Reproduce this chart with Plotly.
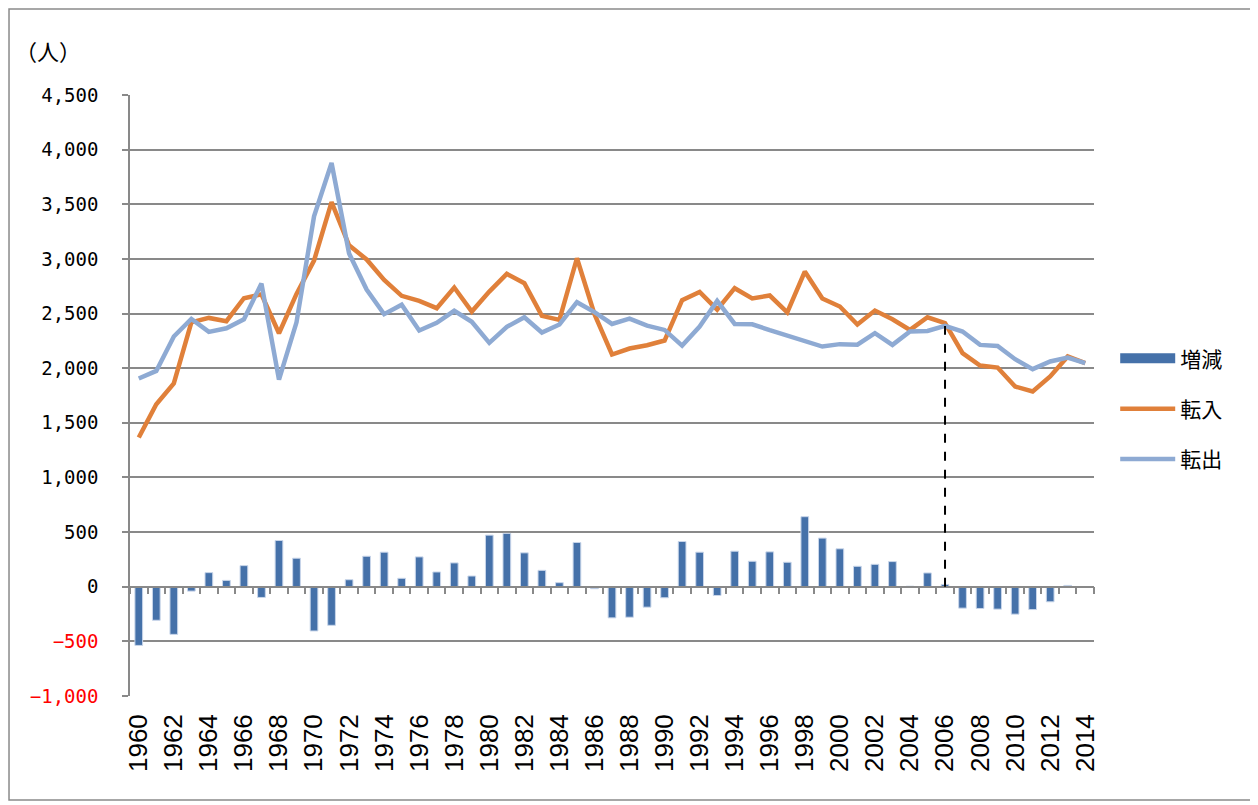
import plotly.graph_objects as go

years = [str(y) for y in range(1960, 2015)]

tennyu = [1365, 1670, 1860, 2420, 2460, 2430, 2640, 2675, 2320, 2680,
          2985, 3520, 3125, 2995, 2808, 2662, 2616, 2549, 2738, 2518,
          2701, 2863, 2777, 2479, 2442, 3006, 2495, 2125, 2180, 2210,
          2253, 2622, 2698, 2536, 2732, 2638, 2665, 2510, 2884, 2638,
          2564, 2400, 2527, 2448, 2350, 2466, 2412, 2137, 2024, 2006,
          1832, 1787, 1924, 2107, 2046]

tenshutsu = [1905, 1975, 2290, 2450, 2332, 2365, 2448, 2774, 1896, 2420,
             3390, 3878, 3050, 2720, 2494, 2580, 2345, 2415, 2525, 2425,
             2232, 2378, 2466, 2326, 2400, 2604, 2513, 2405, 2454, 2390,
             2350, 2207, 2381, 2616, 2405, 2402, 2348, 2295, 2248, 2198,
             2220, 2215, 2320, 2213, 2335, 2341, 2387, 2335, 2213, 2204,
             2082, 1991, 2061, 2097, 2046]

zogen = [-537, -307, -436, -40, 129, 58, 193, -98, 423, 261,
         -405, -353, 64, 279, 316, 77, 273, 135, 218, 98,
         472, 488, 310, 150, 37, 405, -18, -285, -279, -187,
         -101, 414, 316, -80, 325, 233, 319, 224, 641, 445,
         347, 187, 205, 230, 5, 126, 21, -196, -199, -205,
         -251, -209, -138, 12, 0]

series_names = ["増減", "転入", "転出"]
y_ticks = [-1000, -500, 0, 500, 1000, 1500, 2000, 2500, 3000, 3500, 4000, 4500]
x_tick_labels = years[::2]
unit_label = "（人）"
marker_year = "2006"


def fmt(v):
    s = f"{abs(v):,}"
    if v < 0:
        return f"<span style='color:#ff0000'>\u2212{s}</span>"
    return s


GRID = "#898989"
CJK = "Noto Sans CJK JP"
BAR = "#4571a9"

fig = go.Figure()
fig.add_trace(go.Bar(
    x=years, y=zogen, name=series_names[0], legendgroup="a", showlegend=False,
    marker=dict(color=BAR, line=dict(color="#c9d6ea", width=1)),
))
# legend entry for the bars (wide block like the original)
fig.add_trace(go.Scatter(
    x=[None], y=[None], name=series_names[0], legendgroup="a", mode="lines",
    line=dict(color=BAR, width=15), hoverinfo="skip",
))
fig.add_trace(go.Scatter(
    x=years, y=tennyu, name=series_names[1], legendgroup="b", mode="lines",
    line=dict(color="#e0803a", width=4.5),
))
fig.add_trace(go.Scatter(
    x=years, y=tenshutsu, name=series_names[2], legendgroup="c", mode="lines",
    line=dict(color="#8eaad3", width=4.5),
))
# helper trace so the zero-line category axis (with boundary ticks) is drawn
fig.add_trace(go.Scatter(
    x=years, y=zogen, xaxis="x2", mode="none", showlegend=False, hoverinfo="skip",
))

idx = years.index(marker_year)
fig.add_shape(type="line", xref="x", yref="y",
              x0=idx, x1=idx, y0=0,
              y1=min(tennyu[idx], tenshutsu[idx]),
              line=dict(color="black", width=2, dash="dash"))

# outer frame
fig.add_shape(type="rect", xref="paper", yref="paper",
              x0=-0.1255, x1=1.165, y0=-0.173, y1=1.1431,
              line=dict(color="#8a8a8a", width=1.5), fillcolor="rgba(0,0,0,0)")

fig.add_annotation(text=unit_label, xref="paper", yref="paper",
                   x=-0.121, y=1.075, xanchor="left", yanchor="middle",
                   showarrow=False, font=dict(family=CJK, size=22, color="black"))

fig.update_layout(
    width=1250, height=797,
    margin=dict(l=122, r=164, t=87, b=109),
    paper_bgcolor="white", plot_bgcolor="white",
    bargap=0.56,
    showlegend=True,
    legend=dict(x=1.022, y=0.478, xanchor="left", yanchor="middle",
                traceorder="grouped", tracegroupgap=20,
                font=dict(family=CJK, size=21, color="black"),
                bgcolor="rgba(0,0,0,0)", itemwidth=55),
    xaxis=dict(type="category", categoryorder="array", categoryarray=years,
               range=[-0.5, len(years) - 0.5],
               tickmode="array", tickvals=x_tick_labels, ticktext=x_tick_labels,
               tickangle=-90, ticks="", showline=False, showgrid=False,
               zeroline=False, ticklabelstandoff=12,
               tickfont=dict(family="Liberation Sans", size=26, color="black")),
    xaxis2=dict(type="category", overlaying="x", matches="x", anchor="free",
                position=1000 / 5500, side="bottom",
                showline=True, linecolor=GRID, linewidth=1.5,
                ticks="outside", ticklen=7, tickwidth=2, tickcolor=GRID,
                tickson="boundaries", tickmode="linear", tick0=0, dtick=1,
                showticklabels=False, showgrid=False, zeroline=False),
    yaxis=dict(range=[-1000, 4500], tickmode="array", tickvals=y_ticks,
               ticktext=[fmt(v) for v in y_ticks],
               showline=True, linecolor=GRID, linewidth=1.5,
               ticks="outside", ticklen=6, tickwidth=1.5, tickcolor=GRID,
               showgrid=True, gridcolor=GRID, gridwidth=1.5,
               zeroline=False, ticklabelstandoff=20,
               tickfont=dict(family="DejaVu Sans Mono", size=19, color="black")),
)

fig.write_html("out.html")
